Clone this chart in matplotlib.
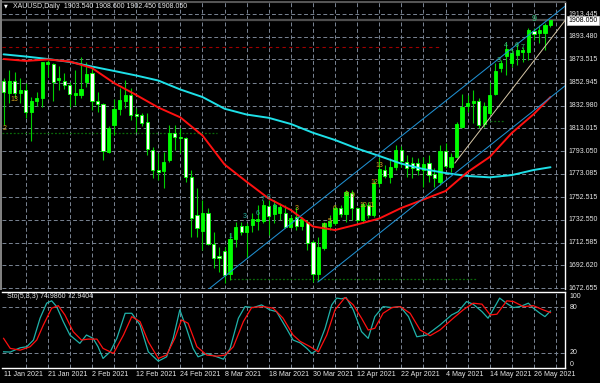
import numpy as np
import matplotlib
matplotlib.use("Agg")
import matplotlib.pyplot as plt
from matplotlib.transforms import blended_transform_factory as btf
from matplotlib.patches import Rectangle

# ---------------- data ----------------
title_text = "XAUUSD,Daily  1903.540 1908.600 1902.450 1908.050"

opens = [1854.6, 1843.8, 1854.8, 1844.3, 1846.7, 1827.3, 1837.3, 1839.9, 1869.2, 1869.5,
         1855.2, 1854.8, 1851.0, 1842.3, 1842.3, 1853.4, 1861.3, 1837.3, 1834.1, 1792.4,
         1815.9, 1829.7, 1837.0, 1842.3, 1825.3, 1824.7, 1818.8, 1793.9, 1776.4, 1775.5,
         1785.1, 1809.1, 1805.6, 1804.7, 1769.9, 1736.8, 1723.0, 1738.8, 1711.3, 1701.0,
         1705.4, 1684.9, 1715.7, 1727.1, 1722.1, 1728.0, 1731.5, 1731.8, 1744.7, 1737.7,
         1738.3, 1738.8, 1726.5, 1735.3, 1727.1, 1730.9, 1712.8, 1684.9, 1707.5, 1727.1,
         1729.5, 1742.7, 1737.4, 1756.4, 1742.7, 1732.4, 1745.6, 1736.8, 1764.7, 1776.4,
         1770.5, 1779.3, 1793.9, 1783.6, 1782.5, 1782.5, 1776.4, 1782.2, 1772.6, 1766.1,
         1793.0, 1779.3, 1788.0, 1814.4, 1832.9, 1835.0, 1837.0, 1816.8, 1826.2, 1842.9,
         1865.7, 1876.5, 1870.1, 1877.4, 1880.3, 1880.3, 1898.5, 1897.0, 1896.5, 1903.54]
highs = [1857.2, 1864.2, 1862.5, 1857.2, 1852.8, 1840.7, 1845.2, 1871.5, 1873.0, 1870.6,
         1867.7, 1861.6, 1854.0, 1864.2, 1875.7, 1871.5, 1867.1, 1845.2, 1835.0, 1815.3,
         1838.5, 1848.2, 1855.4, 1848.2, 1830.6, 1826.7, 1826.7, 1796.8, 1791.3, 1792.4,
         1815.9, 1815.9, 1813.2, 1805.6, 1776.4, 1760.3, 1750.0, 1742.7, 1722.1, 1708.9,
         1708.9, 1720.7, 1730.9, 1730.9, 1729.5, 1738.3, 1745.6, 1750.0, 1750.0, 1750.0,
         1747.3, 1745.6, 1736.8, 1744.1, 1735.3, 1732.4, 1714.8, 1717.7, 1730.9, 1736.8,
         1745.6, 1745.6, 1758.8, 1758.8, 1744.1, 1748.5, 1748.5, 1767.6, 1786.9, 1780.7,
         1786.9, 1798.3, 1797.4, 1789.5, 1788.0, 1786.9, 1788.0, 1789.5, 1777.9, 1798.3,
         1799.8, 1791.0, 1818.8, 1842.9, 1842.3, 1846.7, 1839.4, 1836.4, 1854.0, 1870.1,
         1873.0, 1887.7, 1881.8, 1887.7, 1884.7, 1900.9, 1900.9, 1903.8, 1905.3, 1908.6]
lows = [1815.9, 1835.2, 1839.6, 1835.2, 1822.1, 1802.1, 1832.6, 1832.0, 1858.4, 1837.0,
        1846.7, 1847.5, 1832.0, 1833.5, 1839.4, 1849.6, 1829.1, 1827.6, 1785.1, 1791.0,
        1807.1, 1824.7, 1830.6, 1820.3, 1810.0, 1815.0, 1789.5, 1769.1, 1767.6, 1760.3,
        1783.6, 1793.9, 1791.3, 1766.1, 1717.7, 1717.7, 1706.1, 1710.5, 1690.0, 1687.0,
        1676.8, 1679.7, 1708.9, 1719.2, 1698.8, 1722.1, 1723.6, 1729.5, 1719.2, 1729.5,
        1732.4, 1725.1, 1725.1, 1723.6, 1723.6, 1706.1, 1678.2, 1679.1, 1706.1, 1723.6,
        1728.0, 1735.3, 1730.9, 1732.4, 1730.9, 1729.5, 1733.9, 1735.3, 1761.7, 1769.1,
        1764.9, 1776.4, 1779.3, 1770.5, 1769.1, 1771.9, 1761.7, 1766.1, 1761.7, 1763.2,
        1777.9, 1774.9, 1786.6, 1813.0, 1827.6, 1817.4, 1813.0, 1814.4, 1824.7, 1842.3,
        1862.7, 1859.8, 1867.1, 1868.6, 1871.5, 1873.0, 1890.6, 1888.0, 1881.8, 1902.45]
closes = [1844.9, 1854.8, 1843.8, 1846.7, 1827.3, 1837.0, 1839.9, 1871.0, 1871.3, 1854.0,
          1856.9, 1851.0, 1843.1, 1844.3, 1847.3, 1860.5, 1837.0, 1834.1, 1793.0, 1813.5,
          1829.7, 1837.9, 1842.3, 1824.7, 1823.8, 1817.4, 1794.5, 1776.4, 1774.9, 1783.6,
          1808.6, 1805.1, 1804.2, 1770.5, 1733.9, 1725.1, 1738.8, 1711.3, 1698.8, 1698.8,
          1684.1, 1715.7, 1726.5, 1722.1, 1727.4, 1733.0, 1733.0, 1745.6, 1735.9, 1745.6,
          1743.6, 1726.5, 1734.4, 1727.1, 1733.0, 1711.9, 1684.9, 1708.4, 1729.5, 1731.5,
          1742.7, 1737.7, 1757.3, 1742.7, 1732.4, 1746.5, 1736.8, 1764.7, 1777.0, 1771.1,
          1779.3, 1793.9, 1784.5, 1777.9, 1778.1, 1776.4, 1781.6, 1771.9, 1769.1, 1793.0,
          1780.1, 1788.0, 1816.8, 1831.4, 1835.0, 1837.0, 1815.9, 1832.6, 1842.3, 1863.6,
          1870.1, 1882.4, 1878.9, 1881.8, 1881.8, 1899.4, 1895.9, 1899.4, 1903.8, 1908.05]

ma_bars = [0, 4, 8, 12, 16, 20, 24, 28, 32, 36, 40, 44, 48, 52, 56, 60, 64, 68, 72, 76,
           80, 84, 88, 92, 96, 99]
ma_red = [1873.9, 1872.2, 1873.5, 1871.7, 1866.0, 1852.8, 1842.3, 1831.3, 1822.6, 1806.7,
          1781.2, 1766.0, 1751.3, 1741.2, 1726.7, 1723.6, 1728.5, 1733.7, 1743.0, 1750.4,
          1757.9, 1774.6, 1787.8, 1808.9, 1825.6, 1840.5]
ma_cyan = [1878.0, 1876.1, 1873.9, 1871.3, 1867.3, 1863.4, 1859.4, 1855.0, 1847.1, 1840.5,
           1830.2, 1825.1, 1822.2, 1816.8, 1809.1, 1802.7, 1795.2, 1788.7, 1781.9, 1777.2,
           1773.7, 1771.1, 1769.9, 1771.9, 1776.4, 1778.8]

chan_up_bars = [37.2, 101.6]
chan_up_prices = [1672.0, 1920.2]
chan_lo_bars = [56.9, 101.6]
chan_lo_prices = [1677.9, 1850.2]
trend_bars = [81.7, 101.6]
trend_prices = [1782.5, 1907.5]

price_ticks = [1913.445, 1893.480, 1873.515, 1852.945, 1832.980, 1813.015, 1793.050,
               1773.085, 1752.515, 1732.550, 1712.585, 1692.620, 1672.655]
last_price = 1908.050
red_level = 1884.4
green_levels = [(1808.9, -0.3, 38.6), (1680.6, 41.0, 85.7), (1819.7, 88.0, 90.8)]

date_bars = [0, 8, 16, 24, 32, 40, 48, 56, 64, 72, 80, 88, 96]
date_labels = ["11 Jan 2021", "21 Jan 2021", "2 Feb 2021", "12 Feb 2021", "24 Feb 2021",
               "8 Mar 2021", "18 Mar 2021", "30 Mar 2021", "12 Apr 2021", "22 Apr 2021",
               "4 May 2021", "14 May 2021", "26 May 2021"]

k_bars = [0, 1.2, 3.0, 4.2, 5.4, 6.6, 7.8, 8.7, 9.6, 10.8, 12.0, 13.8, 15.0, 16.2, 17.1,
          18.0, 19.3, 20.5, 22.0, 23.2, 24.7, 26.2, 28.0, 29.5, 30.7, 31.9, 33.1, 34.3,
          35.2, 36.8, 38.6, 39.8, 41.0, 42.5, 43.7, 45.2, 46.7, 48.2, 49.4, 51.2, 52.4,
          53.7, 54.9, 55.8, 56.7, 58.2, 59.4, 60.3, 61.2, 62.0, 63.3, 64.8, 66.0, 67.2,
          68.7, 70.3, 71.8, 73.3, 74.8, 76.6, 79.0, 81.1, 82.3, 83.8, 85.0, 86.6, 87.7,
          88.6, 89.8, 91.0, 92.3, 93.5, 95.0, 95.9, 97.1, 98.0, 99.0]
k_vals = [21.3, 21, 26.6, 28, 36.8, 65.5, 85.3, 88.4, 80.8, 61, 43.4, 32.4, 43.4, 39, 28,
          12.6, 21.3, 39, 72, 72, 56.6, 21.3, 9, 14.7, 39, 76.5, 52.2, 25.8, 14.7, 19.2,
          14.7, 11.6, 25.8, 65.5, 80.8, 79.5, 83, 76.5, 74.2, 52.2, 36.8, 33, 25.8, 19.2,
          23.5, 52.2, 83, 92, 91, 92.7, 76.5, 47.8, 39, 67.6, 80.8, 79.5, 80.8, 67.6, 41.1,
          43.4, 56.6, 69.8, 74.2, 87.4, 84, 74.2, 65.5, 76.5, 92, 85.3, 79.5, 80.8, 85.3,
          78.7, 72, 67.6, 75.0]
d_bars = [0, 1.2, 3.0, 4.8, 6.0, 7.2, 8.7, 9.9, 11.1, 12.6, 14.1, 15.3, 16.9, 18.0, 19.9,
          21.7, 23.2, 24.7, 26.2, 28.0, 29.5, 31.0, 32.2, 33.4, 35.0, 36.8, 38.6, 40.1,
          41.6, 43.4, 44.9, 47.0, 48.8, 50.6, 52.4, 53.7, 55.5, 57.0, 58.5, 60.0, 61.8,
          63.3, 64.8, 66.0, 67.2, 68.7, 70.3, 71.8, 73.6, 75.4, 77.2, 79.0, 81.4, 83.2,
          85.0, 86.6, 88.1, 89.3, 91.1, 92.3, 94.1, 95.9, 97.7, 99.0]
d_vals = [39, 25.8, 23.5, 28, 36.8, 56.6, 78.7, 82, 69.8, 47.8, 36.8, 38, 38, 25.8, 19.2,
          43.4, 67.6, 61, 34.5, 12.6, 17, 39, 63.2, 58.9, 28, 17, 15.6, 17, 28, 61, 79.5,
          80.8, 78.7, 65.5, 43.4, 35, 28, 21.3, 43.4, 76.5, 92.7, 83, 65.5, 50, 52.2, 72,
          79.5, 80.8, 72, 50, 42.5, 50, 65.5, 76.5, 85.3, 84, 69.8, 70.8, 88.4, 87.4, 80.8,
          82, 76.5, 72.9]
stoch_label = "Sto(5,3,3) 74.9860 72.9404"

td_labels = ["2", "13", "1", "3", "6", "7", "8", "9", "3", "4", "5", "6", "8", "9", "10",
             "11", "12", "13", "3", "4", "5", "6", "7", "9"]
td_bars = [0.25, 2.0, 41.1, 43.6, 45.9, 46.9, 47.9, 49.0, 53.0, 58.0, 59.0, 60.0, 62.1,
           63.1, 65.2, 66.6, 67.1, 68.0, 89.7, 91.0, 92.0, 92.9, 94.0, 96.0]
td_prices = [1812.4, 1837.9, 1718.3, 1735.9, 1738.1, 1750.0, 1752.6, 1743.8, 1742.5,
             1727.1, 1730.7, 1742.9, 1754.8, 1753.9, 1745.3, 1745.3, 1765.8, 1779.9,
             1873.0, 1886.2, 1879.2, 1886.2, 1883.6, 1909.1]
td_groups = ["y", "y", "t", "t", "t", "t", "t", "t", "y", "y", "y", "y", "y", "y", "y",
             "y", "y", "y", "g", "g", "g", "g", "g", "g"]

# ---------------- figure ----------------
plt.rcParams["font.family"] = ["Liberation Sans", "DejaVu Sans"]
W, H = 600, 383
fig = plt.figure(figsize=(6.0, 3.83), dpi=100, facecolor="black")


def rect(x0, y0, x1, y1):
    return [x0 / W, 1 - y1 / H, (x1 - x0) / W, (y1 - y0) / H]


ax = fig.add_axes(rect(2, 2, 565, 289))
st = fig.add_axes(rect(2, 292, 565, 368))
XL = (-0.29, 101.63)
for a in (ax, st):
    a.set_facecolor("black")
    a.set_xlim(*XL)
    a.set_xticks([])
    a.set_yticks([])
ax.set_ylim(1671.78, 1924.0)
st.set_ylim(0, 100)

for s in ax.spines.values():
    s.set_visible(False)
ax.spines["right"].set_visible(True)
ax.spines["right"].set_color("white")
ax.spines["right"].set_linewidth(1.0)
ax.spines["top"].set_visible(True)
ax.spines["top"].set_color("#555555")
ax.spines["top"].set_linewidth(1.5)
for s in st.spines.values():
    s.set_visible(False)
for k in ("top", "bottom", "right"):
    st.spines[k].set_visible(True)
    st.spines[k].set_color("white")
    st.spines[k].set_linewidth(1.0)

fig.patches.append(Rectangle((0, 1 - 290 / H), 2.2 / W, 290 / H, transform=fig.transFigure,
                             facecolor="#808080", edgecolor="none"))

grid_kw = dict(color="#7a8594", lw=0.7, ls=(0, (4.0, 2.6)), zorder=1)
grid_bars = np.arange(4, 101, 4)
for b in grid_bars:
    ax.axvline(b, **grid_kw)
    st.axvline(b, **grid_kw)
for p in price_ticks:
    ax.axhline(p, **grid_kw)
for v in (20, 80):
    st.axhline(v, **grid_kw)

# horizontal objects
ax.axhline(last_price, color="#4d4d4d", lw=1.6, zorder=2)
ax.hlines(red_level, XL[0], 79.0, color="#a00000", lw=0.8, ls=(0, (3, 3)), zorder=2)
for lvl, b0, b1 in green_levels:
    ax.hlines(lvl, b0, b1, color="#0a6a0a", lw=0.9, ls=(0, (1.5, 1.5)), zorder=2)

# candles
o = np.array(opens); h = np.array(highs); l = np.array(lows); c = np.array(closes)
bars = np.arange(len(o))
up = c >= o
ax.vlines(bars, l, h, color="#00d000", lw=0.8, zorder=3)
ax.bar(bars, np.maximum(np.abs(c - o), 0.5), bottom=np.minimum(o, c), width=0.58,
       color=np.where(up, "#00ff00", "#ffffff"), edgecolor="#00ff00", linewidth=0.6,
       zorder=4)

# moving averages
ax.plot(ma_bars, ma_cyan, color="#1ee0e8", lw=1.4, zorder=5, solid_capstyle="round")
ax.plot(ma_bars, ma_red, color="#ff1010", lw=1.4, zorder=5, solid_capstyle="round")

# channel & trend lines
ax.plot(chan_up_bars, chan_up_prices, color="#1f8fd0", lw=0.75, zorder=6)
ax.plot(chan_lo_bars, chan_lo_prices, color="#1f8fd0", lw=0.75, zorder=6)
ax.plot(trend_bars, trend_prices, color="#d8c8a8", lw=0.7, zorder=6)

# TD counts
tdcol = {"y": "#d4a020", "t": "#22b0a0", "g": "#3cc080"}
for t, b, p, g in zip(td_labels, td_bars, td_prices, td_groups):
    ax.text(b, p, t, color=tdcol[g], fontsize=6.5 if (g == "g" and t == "9") else 5,
            ha="center", va="center", zorder=7, clip_on=True)

# title
ax.text(0.004, 0.986, "\u25bc", transform=ax.transAxes, color="white", fontsize=3.5,
        ha="left", va="center", family="DejaVu Sans")
ax.text(0.0195, 0.986, title_text, transform=ax.transAxes, color="#e6e6e6", fontsize=5,
        ha="left", va="center")

# right price labels
trm = btf(ax.transAxes, ax.transData)
for p in price_ticks:
    ax.text(1.006, p, f"{p:.3f}", transform=trm, color="#e6e6e6", fontsize=5,
            ha="left", va="center", clip_on=False)
ax.text(1.006, last_price, f"{last_price:.3f}", transform=trm, color="black", fontsize=5,
        ha="left", va="center", clip_on=False, zorder=10,
        bbox=dict(boxstyle="square,pad=0.15", fc="white", ec="#cccccc", lw=0.5))

# stochastic
st.plot(k_bars, k_vals, color="#20b2aa", lw=0.9, zorder=3)
st.plot(d_bars, d_vals, color="#ff1010", lw=0.9, zorder=3)
st.text(0.009, 0.935, stoch_label, transform=st.transAxes, color="#e6e6e6", fontsize=5,
        ha="left", va="center")
trs = btf(st.transAxes, st.transData)
for lab, v in (("100", 93.5), ("80", 80), ("20", 20), ("0", 5)):
    st.text(1.008, v, lab, transform=trs, color="#e6e6e6", fontsize=5, ha="left",
            va="center", clip_on=False)

trd = btf(st.transData, st.transAxes)
for b, lab in zip(date_bars, date_labels):
    st.text(b, -0.092, lab, transform=trd, color="#e6e6e6", fontsize=5.1, ha="left",
            va="center", clip_on=False)

fig.savefig("out.png", dpi=100, facecolor="black")
